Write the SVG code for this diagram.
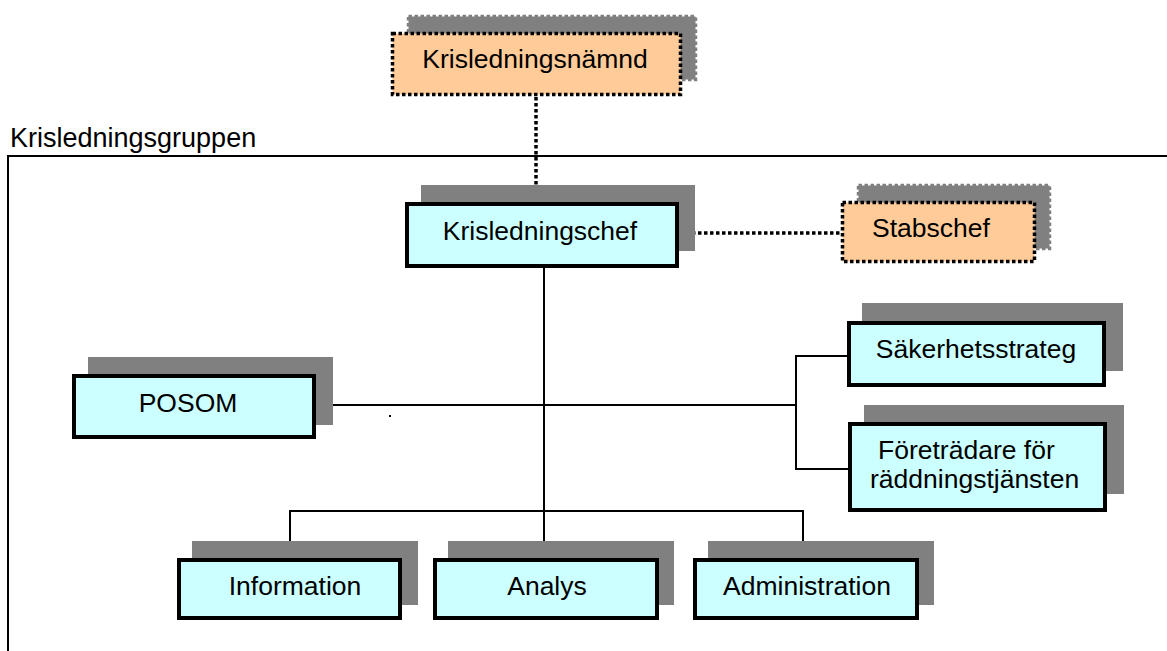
<svg xmlns="http://www.w3.org/2000/svg" width="1167" height="651" viewBox="0 0 1167 651">
<style>
text{font-family:"Liberation Sans",Arial,sans-serif;font-size:26.5px;fill:#000}
.c{text-anchor:middle}
.sh{fill:#808080}
.shd{fill:#808080;stroke:#808080;stroke-width:3.5;stroke-dasharray:3.5 2.5}
.box{fill:#CCFFFF;stroke:#000;stroke-width:4}
.obox{fill:#FFCC99;stroke:#000;stroke-width:3.5;stroke-dasharray:3.5 2.5}
.ln{stroke:#000;stroke-width:2;fill:none}
.dl{stroke:#000;stroke-width:3.5;stroke-dasharray:3.5 2.5;fill:none}
</style>
<rect width="1167" height="651" fill="#fff"/>
<g id="frame">
<path class="ln" d="M8,651 V156 H1167"/>
<text x="10" y="147" style="font-size:27px">Krisledningsgruppen</text>
</g>
<g id="connectors">
<line class="dl" x1="536" y1="97" x2="536" y2="201"/>
<line class="dl" x1="680" y1="233" x2="840" y2="233"/>
<line class="ln" x1="544" y1="268" x2="544" y2="558"/>
<path class="ln" d="M290,558 V511 H803 V558"/>
<line class="ln" x1="316" y1="405" x2="796" y2="405"/>
<path class="ln" d="M847,356 H796 V469 H848"/>
<rect x="389" y="415" width="2" height="2" fill="#000"/>
</g>
<g id="n-namnd">
<rect class="shd" x="408.5" y="16.5" width="287" height="63"/>
<rect class="obox" x="392.5" y="33.5" width="288" height="61"/>
<text class="c" x="535" y="68">Krisledningsnämnd</text>
</g>
<g id="n-chef">
<rect class="sh" x="421" y="185" width="274" height="66"/>
<rect class="box" x="407" y="204" width="270" height="62"/>
<text class="c" x="540" y="240">Krisledningschef</text>
</g>
<g id="n-stab">
<rect class="shd" x="858.5" y="185.5" width="191" height="63"/>
<rect class="obox" x="842.5" y="202.5" width="192" height="59"/>
<text class="c" x="931" y="237">Stabschef</text>
</g>
<g id="n-posom">
<rect class="sh" x="88" y="357" width="245" height="68"/>
<rect class="box" x="74" y="376" width="240" height="61"/>
<text class="c" x="188" y="412">POSOM</text>
</g>
<g id="n-sak">
<rect class="sh" x="862" y="303" width="261" height="68"/>
<rect class="box" x="849" y="323" width="255" height="62"/>
<text class="c" x="976" y="358">Säkerhetsstrateg</text>
</g>
<g id="n-fore">
<rect class="sh" x="864" y="405" width="260" height="89"/>
<rect class="box" x="850" y="424" width="255" height="86"/>
<text x="878" y="459">Företrädare för</text>
<text x="870" y="488">räddningstjänsten</text>
</g>
<g id="n-info">
<rect class="sh" x="192" y="541" width="226" height="64"/>
<rect class="box" x="179" y="560" width="221" height="58"/>
<text class="c" x="295" y="595">Information</text>
</g>
<g id="n-analys">
<rect class="sh" x="448" y="541" width="226" height="64"/>
<rect class="box" x="435" y="560" width="222" height="58"/>
<text class="c" x="547" y="595">Analys</text>
</g>
<g id="n-admin">
<rect class="sh" x="708" y="541" width="226" height="64"/>
<rect class="box" x="695" y="560" width="222" height="58"/>
<text class="c" x="807" y="595">Administration</text>
</g>
</svg>
